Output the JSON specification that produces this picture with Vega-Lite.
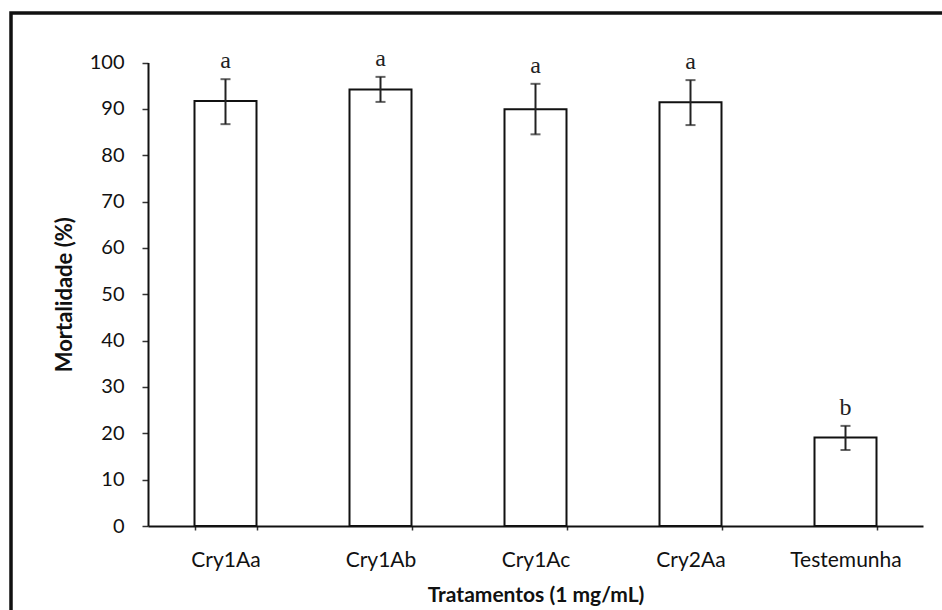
{
  "$schema": "https://vega.github.io/schema/vega-lite/v6.json",
  "width": 960,
  "height": 620,
  "autosize": "none",
  "padding": {"left": 11, "top": 13, "right": -29, "bottom": -23},
  "background": "white",
  "config": {
    "view": {"stroke": "#111", "strokeWidth": 3.5},
    "axis": {"grid": false, "labelFont": "Lato", "titleFont": "Lato", "labelColor": "#111", "titleColor": "#111", "domainColor": "#111", "domainWidth": 2, "tickColor": "#333"}
  },
  "data": {
    "values": [
      {"trat": "Cry1Aa", "mort": 91.7, "lo": 86.7, "hi": 96.4, "letra": "a"},
      {"trat": "Cry1Ab", "mort": 94.2, "lo": 91.5, "hi": 96.9, "letra": "a"},
      {"trat": "Cry1Ac", "mort": 89.9, "lo": 84.5, "hi": 95.4, "letra": "a"},
      {"trat": "Cry2Aa", "mort": 91.4, "lo": 86.5, "hi": 96.2, "letra": "a"},
      {"trat": "Testemunha", "mort": 19.1, "lo": 16.4, "hi": 21.6, "letra": "b"}
    ]
  },
  "encoding": {
    "x": {
      "field": "trat",
      "type": "nominal",
      "sort": null,
      "scale": {"range": [137, 912], "paddingInner": 0.6, "paddingOuter": 0.3},
      "axis": {
        "title": "Tratamentos (1 mg/mL)",
        "labelAngle": 0,
        "labelFontSize": 21,
        "titleFontSize": 21,
        "titleFontWeight": "bold",
        "tickBand": "extent",
        "tickSize": 4,
        "tickWidth": 1.5,
        "labelPadding": 19,
        "titlePadding": 14,
        "offset": -107
      }
    }
  },
  "layer": [
    {
      "mark": {"type": "bar", "fill": "white", "stroke": "#111", "strokeWidth": 2},
      "encoding": {
        "y": {
          "field": "mort",
          "type": "quantitative",
          "title": "Mortalidade (%)",
          "scale": {"domain": [0, 100], "range": [513, 49.5], "nice": false, "zero": true},
          "axis": {
            "title": "Mortalidade (%)",
            "values": [0, 10, 20, 30, 40, 50, 60, 70, 80, 90, 100],
            "labelFontSize": 20,
            "titleFontSize": 22,
            "titleFontWeight": "bold",
            "tickSize": 6,
            "tickWidth": 1.5,
            "labelPadding": 18,
            "titlePadding": 13,
            "offset": -137
          }
        }
      }
    },
    {
      "mark": {"type": "errorbar", "ticks": {"size": 10, "color": "#222", "thickness": 2}, "rule": {"color": "#222", "strokeWidth": 2}},
      "encoding": {
        "y": {"field": "lo", "type": "quantitative", "title": "Mortalidade (%)"},
        "y2": {"field": "hi"}
      }
    },
    {
      "mark": {"type": "text", "font": "Liberation Serif", "fontSize": 24, "baseline": "alphabetic", "dy": -11, "color": "#222"},
      "encoding": {
        "y": {"field": "hi", "type": "quantitative", "title": "Mortalidade (%)"},
        "text": {"field": "letra"}
      }
    }
  ]
}
